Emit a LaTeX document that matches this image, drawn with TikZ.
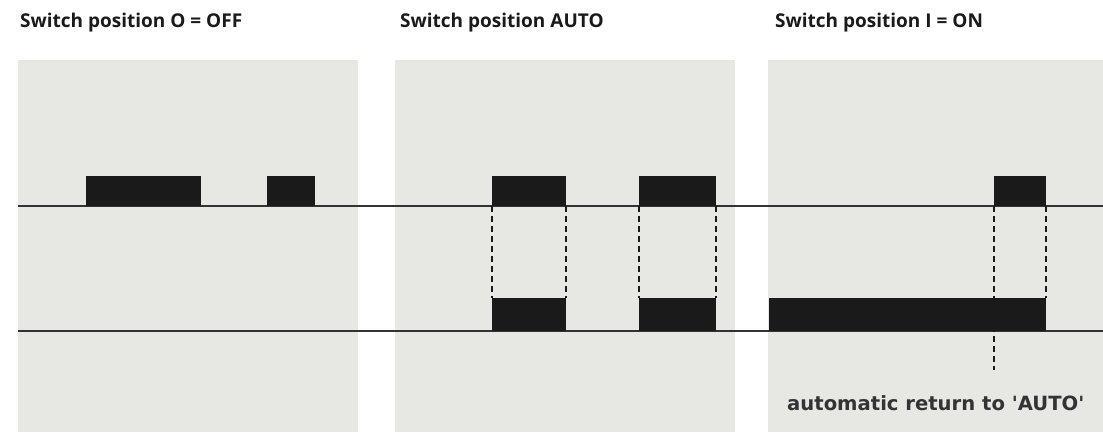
\documentclass[tikz,border=0pt]{standalone}
\usepackage{fontspec}
\setmainfont{Open Sans}
\newfontfamily\notefont{DejaVu Sans}
\definecolor{panelgray}{HTML}{E7E7E4}
\definecolor{ink}{HTML}{1A1A1A}
\definecolor{linegray}{HTML}{333333}
\begin{document}
\begin{tikzpicture}[x=1pt,y=-1pt,
  panel/.style={fill=panelgray,draw=none},
  blk/.style={fill=ink,draw=none,inner sep=0pt,outer sep=0pt},
  axis/.style={draw=linegray,line width=1.4pt},
  guide/.style={draw=ink,line width=2pt,dash pattern=on 6pt off 4pt},
  head/.style={anchor=base west,inner sep=0pt,font=\fontsize{19}{22}\selectfont\bfseries,text=ink},
  note/.style={anchor=base west,inner sep=0pt,font=\notefont\fontsize{19.6}{24}\selectfont\bfseries,text=linegray}]
\useasboundingbox (0,0) rectangle (1103,432);
\fill[white] (0,0) rectangle (1103,432);
% panels
\fill[panel] (18,60) rectangle (358,432);
\fill[panel] (395,60) rectangle (735,432);
\fill[panel] (768,60) rectangle (1103,432);
% headers
\node[head] (h1) at (20,27) {Switch position O = OFF};
\node[head] (h2) at (400,27) {Switch position AUTO};
\node[head] (h3) at (775,27) {Switch position I = ON};
% axes
\coordinate (t0) at (18,206); \coordinate (t1) at (1103,206);
\coordinate (u0) at (18,331); \coordinate (u1) at (1103,331);
\draw[axis] (t0) -- (t1);
\draw[axis] (u0) -- (u1);
% blocks, top row (y 176..206)
\node[blk,minimum width=115pt,minimum height=30pt] (a1) at (143.5,191) {};
\node[blk,minimum width=48pt,minimum height=30pt] (a2) at (291,191) {};
\node[blk,minimum width=74pt,minimum height=30pt] (a3) at (529,191) {};
\node[blk,minimum width=77pt,minimum height=30pt] (a4) at (677.5,191) {};
\node[blk,minimum width=52pt,minimum height=30pt] (a5) at (1020,191) {};
% blocks, bottom row (y 298..331)
\node[blk,minimum width=74pt,minimum height=33pt] (c3) at (529,314.5) {};
\node[blk,minimum width=77pt,minimum height=33pt] (c4) at (677.5,314.5) {};
\node[blk,minimum width=277pt,minimum height=33pt] (c5) at (907.5,314.5) {};
% dashed guides
\draw[guide] (a3.south west) -- (c3.north west);
\draw[guide] (a3.south east) -- (c3.north east);
\draw[guide] (a4.south west) -- (c4.north west);
\draw[guide] (a4.south east) -- (c4.north east);
\coordinate (ret) at (994,370);
\draw[guide] (a5.south west) -- (ret);
\draw[guide] (a5.south east) -- (c5.north east);
% note
\node[note] (n1) at (787,410) {automatic return to 'AUTO'};
\end{tikzpicture}
\end{document}
